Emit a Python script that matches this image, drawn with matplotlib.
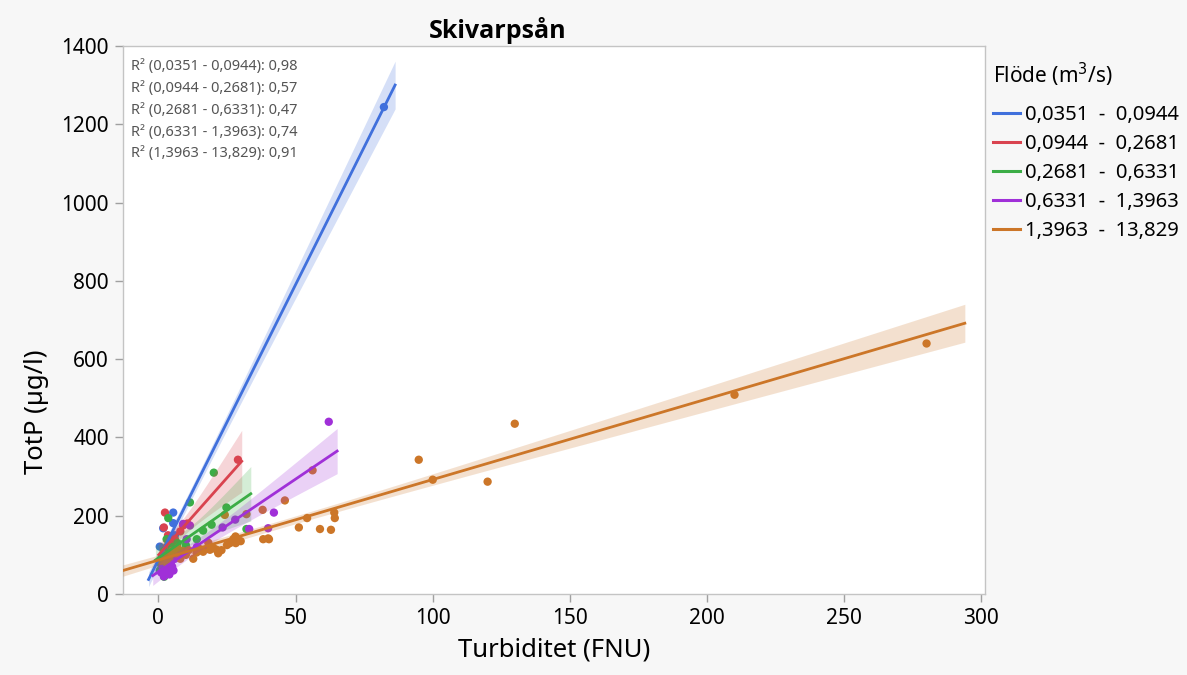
import numpy as np
import matplotlib
matplotlib.use("Agg")
import matplotlib.pyplot as plt
from matplotlib.lines import Line2D

plt.rcParams['font.family'] = ['Noto Sans', 'DejaVu Sans']

# Flödesklasser (m3/s)
klasser = ['0,0351  -  0,0944', '0,0944  -  0,2681', '0,2681  -  0,6331',
           '0,6331  -  1,3963', '1,3963  -  13,829']
r2_klass = ['0,0351 - 0,0944', '0,0944 - 0,2681', '0,2681 - 0,6331',
            '0,6331 - 1,3963', '1,3963 - 13,829']
r2_varden = ['0,98', '0,57', '0,47', '0,74', '0,91']
farger = ['#4070dc', '#d9434f', '#3cad46', '#a030d8', '#cc7628']

# Turbiditet (FNU) och TotP (ug/l) per klass
turb_1 = [0.5, 1.0, 1.75, 2.0, 2.5, 3.0, 3.5, 4.0, 4.5, 5.0, 5.4, 5.4, 6.0, 82.2]
totp_1 = [121, 90, 168, 100, 110, 115, 120, 125, 135, 140, 181, 208, 150, 1244]

turb_2 = [1.5, 2.0, 2.4, 3.0, 3.0, 3.5, 4.0, 4.5, 5.0, 6.0, 7.0, 8.0, 9.0, 10.5, 29.0]
totp_2 = [95, 170, 208, 120, 80, 150, 110, 100, 130, 140, 105, 160, 175, 180, 343]

turb_3 = [0.5, 1.0, 1.5, 2.0, 2.1, 3.0, 3.5, 3.6, 5.0, 6.0, 7.0, 8.0, 10.0, 11.5,
          14.0, 16.3, 19.4, 20.2, 24.8, 32.1]
totp_3 = [60, 75, 90, 110, 44, 140, 70, 194, 120, 100, 130, 105, 125, 234,
          140, 162, 177, 310, 221, 166]

turb_4 = [1.0, 1.5, 2.0, 2.5, 3.0, 3.5, 4.0, 4.5, 5.0, 5.5, 6.0, 7.0, 9.0, 10.3,
          11.5, 14.0, 18.0, 23.4, 28.0, 33.1, 40.0, 42.1, 62.1]
totp_4 = [55, 70, 45, 60, 75, 65, 50, 80, 70, 60, 90, 110, 179, 140,
          175, 120, 115, 170, 190, 166, 168, 208, 440]

turb_5 = [1, 2, 3, 4, 5, 6, 7, 8, 9, 10, 11, 12.7, 13.9, 15, 16.3, 18.2, 18.8,
          20, 21.2, 21.8, 23, 24.2, 25, 26.1, 27.3, 28.1, 28.2, 30, 32.1, 38,
          38.2, 40, 40.3, 46.1, 51.2, 54.2, 56.2, 58.9, 62.9, 64.1, 64.3,
          94.9, 100, 120, 129.9, 210, 280]
totp_5 = [85, 100, 80, 95, 110, 105, 118, 90, 110, 100, 112, 90, 106, 115, 108,
          131, 113, 118, 113, 104, 112, 202, 125, 130, 140, 147, 130, 135, 204,
          215, 140, 142, 140, 239, 170, 194, 316, 166, 164, 208, 194,
          343, 292, 287, 435, 509, 640]

turb = [turb_1, turb_2, turb_3, turb_4, turb_5]
totp = [totp_1, totp_2, totp_3, totp_4, totp_5]


def t975(df):
    # Cornish-Fisher approximation of the t quantile
    z = 1.959964
    return (z + (z**3 + z) / (4 * df)
            + (5 * z**5 + 16 * z**3 + 3 * z) / (96 * df**2))


def linjar_anpassning(x, y):
    x = np.asarray(x, float)
    y = np.asarray(y, float)
    n = len(x)
    b, a = np.polyfit(x, y, 1)
    res = y - (a + b * x)
    s = np.sqrt(np.sum(res**2) / (n - 2))
    sxx = np.sum((x - x.mean())**2)
    spann = x.max() - x.min()
    xs = np.linspace(x.min() - 0.05 * spann, x.max() + 0.05 * spann, 200)
    yhat = a + b * xs
    se = s * np.sqrt(1 / n + (xs - x.mean())**2 / sxx)
    return xs, yhat, t975(n - 2) * se


fig = plt.figure(figsize=(11.87, 6.75), dpi=100, facecolor='#f7f7f7')
ax = fig.add_axes([123 / 1187, 81 / 675, 862 / 1187, 548 / 675])
ax.set_facecolor('white')

for x, y, c in zip(turb, totp, farger):
    ax.scatter(x, y, s=36, color=c, edgecolors='none', zorder=2)

for x, y, c in zip(turb, totp, farger):
    xs, yhat, d = linjar_anpassning(x, y)
    ax.fill_between(xs, yhat - d, yhat + d, color=c, alpha=0.22,
                    linewidth=0, zorder=3)
    ax.plot(xs, yhat, color=c, linewidth=2, zorder=4)

ax.set_xlim(-12.9, 301.3)
ax.set_ylim(0, 1400)
ax.set_xticks([0, 50, 100, 150, 200, 250, 300])
ax.set_yticks(range(0, 1401, 200))
ax.tick_params(axis='both', labelsize=15, color='#a0a0a0', length=6,
               width=1, pad=4)
for sp in ax.spines.values():
    sp.set_color('#c4c4c4')
    sp.set_linewidth(1)

ax.set_xlabel('Turbiditet (FNU)', fontsize=18.5, labelpad=6)
ax.set_ylabel('TotP (µg/l)', fontsize=18.5)
ax.yaxis.set_label_coords(-0.086, 0.332)
fig.text(498 / 1187, 1 - 30 / 675, 'Skivarpsån', fontsize=18,
         fontweight='bold', family='Open Sans', ha='center', va='center')

# R2 per flödesklass i övre vänstra hörnet
for i, (k, v) in enumerate(zip(r2_klass, r2_varden)):
    ax.text(0.009, 0.962 - i * 0.0397, f'R² ({k}): {v}', transform=ax.transAxes,
            fontsize=10.5, color='#555555', va='center', ha='left')

# förklaring till höger om diagrammet
fig.text(993 / 1187, 1 - 75 / 675, 'Flöde (m$^3$/s)', fontsize=15,
         ha='left', va='center')
handtag = [Line2D([0], [0], color=c, linewidth=2.2) for c in farger]
leg = ax.legend(handtag, klasser, loc='upper left',
                bbox_to_anchor=(1.009, 0.893), frameon=False, fontsize=14.6,
                handlelength=1.35, handletextpad=0.25, labelspacing=0.45,
                borderaxespad=0, borderpad=0)

fig.savefig('out.png', dpi=100, facecolor=fig.get_facecolor())
